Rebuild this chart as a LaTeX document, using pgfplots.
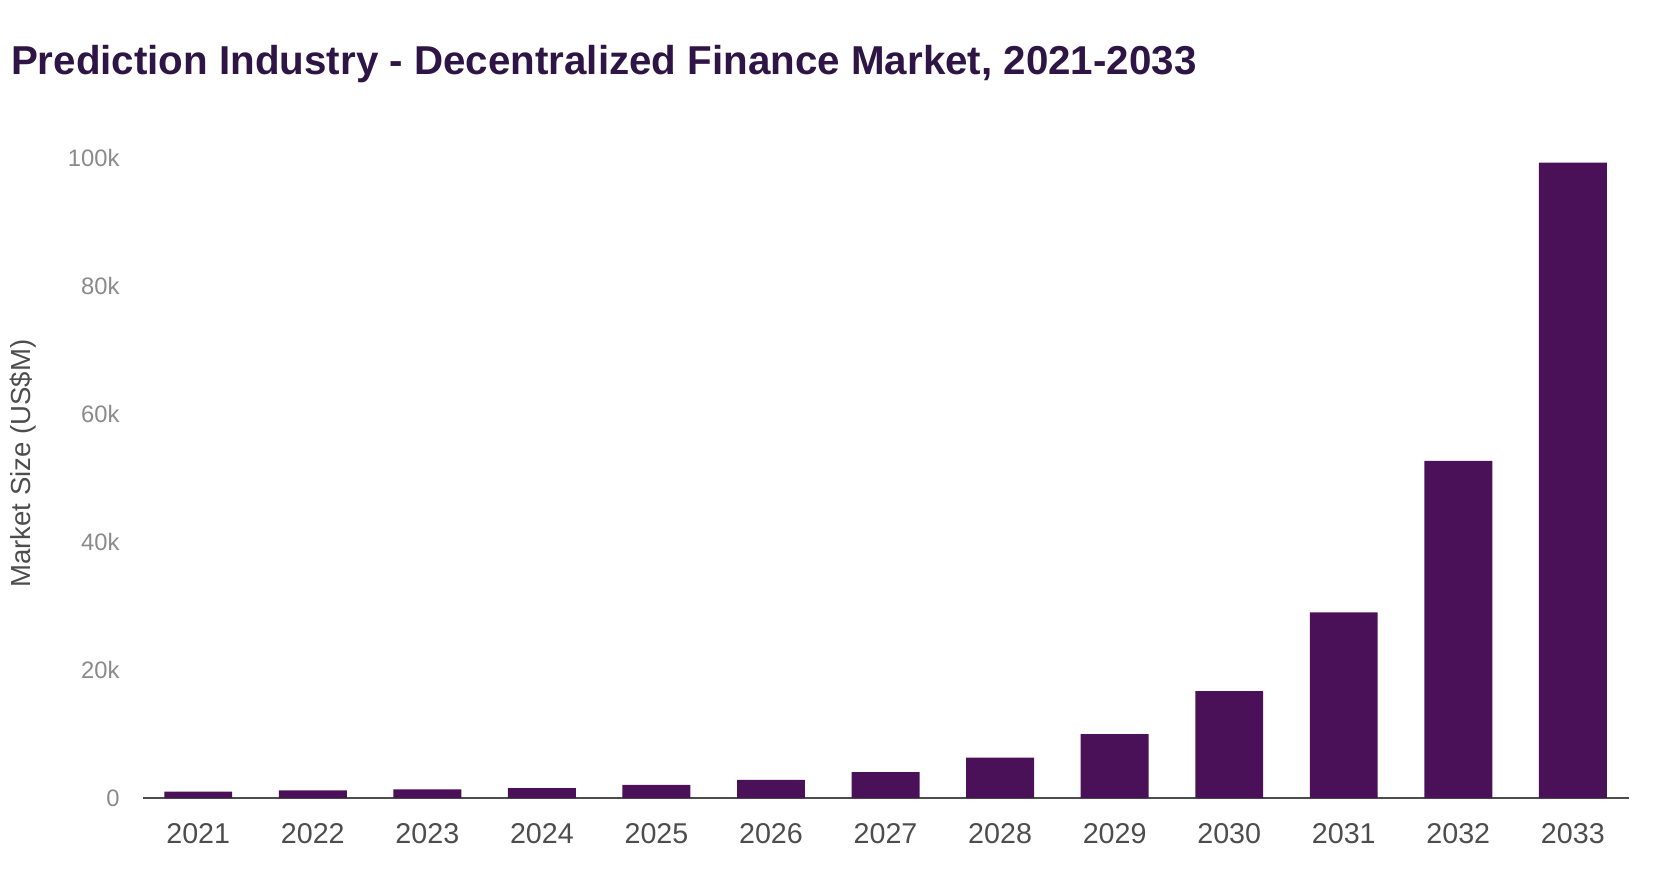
\documentclass[border=0pt]{standalone}
\usepackage{pgfplots}
\pgfplotsset{compat=1.18}
\usepackage{fontspec}
\setmainfont{Liberation Sans}
\definecolor{barc}{HTML}{4B1158}
\definecolor{titlec}{HTML}{2E1545}
\definecolor{tickc}{HTML}{8A8A8A}
\definecolor{yearc}{HTML}{4D4D4D}
\definecolor{gridc}{HTML}{E6E6E6}
\begin{document}
\begin{tikzpicture}
\path[use as bounding box] (-67.5pt,-34pt) rectangle (716.5pt,376pt);
\begin{axis}[
  at={(0pt,0pt)}, anchor=south west,
  scale only axis, width=700pt, height=301.5pt,
  ymin=0, ymax=100000,
  xmin=-0.48, xmax=12.49,
  ybar, bar width=32pt,
  axis x line*=bottom, axis y line=none,
  x axis line style={draw=yearc, line width=0.8pt},
  xtick={0,...,12},
  xticklabels={2021,2022,2023,2024,2025,2026,2027,2028,2029,2030,2031,2032,2033},
  xtick style={draw=none},
  x tick label style={font=\fontsize{13.5}{16}\selectfont, text=yearc, yshift=-4pt},
  ytick={0,20000,40000,60000,80000,100000},
  yticklabels={0,20k,40k,60k,80k,100k},
  ymajorgrids, grid style={draw=gridc, line width=0.6pt},
  every outer y axis line/.style={draw=none},
  clip=false,
]
\addplot[fill=barc, draw=none] coordinates {
(0,1000) (1,1200) (2,1350) (3,1550) (4,2050) (5,2850) (6,4050) (7,6300) (8,10000) (9,16700) (10,29000) (11,52700) (12,99300)};
\end{axis}
\foreach \v/\l in {0/0,20/20k,40/40k,60/60k,80/80k,100/100k}{
  \node[anchor=east, text=tickc, font=\fontsize{11.2}{13}\selectfont, inner sep=0pt] at (-11pt,{\v*3.015pt}) {\l};
}
\node[rotate=90, text=yearc, font=\fontsize{13}{15}\selectfont, inner sep=0pt] at (-56.5pt,157.5pt) {Market Size (US\$M)};
\node[anchor=base west, text=titlec, font=\bfseries\fontsize{19}{23}\selectfont, inner sep=0pt] at (-62.5pt,341pt) {Prediction Industry - Decentralized Finance Market, 2021-2033};
\end{tikzpicture}
\end{document}
